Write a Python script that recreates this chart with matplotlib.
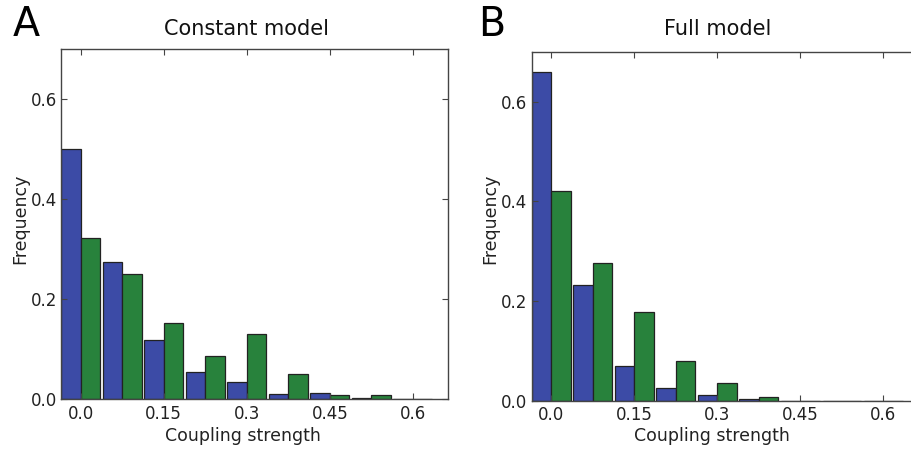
import numpy as np
import matplotlib
matplotlib.use("Agg")
import matplotlib.pyplot as plt

# bin centres (coupling strength) and frequencies
bin_centers = [0.0, 0.075, 0.15, 0.225, 0.3, 0.375, 0.45, 0.525, 0.6]

const_blue = [0.500, 0.273, 0.117, 0.053, 0.033, 0.010, 0.011, 0.002, 0.0005]
const_green = [0.321, 0.250, 0.151, 0.085, 0.129, 0.050, 0.007, 0.007, 0.0]

full_blue = [0.659, 0.233, 0.069, 0.025, 0.011, 0.003, 0.0, 0.0, 0.0]
full_green = [0.420, 0.277, 0.178, 0.079, 0.035, 0.007, 0.0, 0.0, 0.0]

xticks = [0.0, 0.15, 0.3, 0.45, 0.6]
xtick_labels = ["0.0", "0.15", "0.3", "0.45", "0.6"]
yticks = [0.0, 0.2, 0.4, 0.6]
ytick_labels = ["0.0", "0.2", "0.4", "0.6"]

blue = "#3c4ba6"
green = "#28823c"
w = 0.035

fig = plt.figure(figsize=(9.11, 4.49), dpi=100)
axA = fig.add_axes([0.067, 0.1114, 0.425, 0.7795])
axB = fig.add_axes([0.5836, 0.1076, 0.425, 0.777])


def draw(ax, b, g):
    x = np.array(bin_centers)
    ax.bar(x - w / 2, b, w, color=blue, edgecolor="#222222", linewidth=0.9)
    ax.bar(x + w / 2, g, w, color=green, edgecolor="#222222", linewidth=0.9)
    ax.set_xlim(-0.0355, 0.664)
    ax.set_ylim(0, 0.7)
    ax.set_xticks(xticks)
    ax.set_xticklabels(xtick_labels)
    ax.set_yticks(yticks)
    ax.set_yticklabels(ytick_labels)
    ax.tick_params(direction="in", top=True, right=True, length=4,
                   width=0.8, color="#444444", labelsize=12,
                   labelcolor="#222222")
    ax.tick_params(axis="x", pad=4)
    ax.tick_params(axis="y", pad=3)
    for s in ax.spines.values():
        s.set_color("#444444")
        s.set_linewidth(1.0)


draw(axA, const_blue, const_green)
draw(axB, full_blue, full_green)

# titles, labels and panel letters
fig.text(246.7 / 911, 1 - 29 / 449, "Constant model", fontsize=15,
         ha="center", va="center", color="#111111")
fig.text(717.5 / 911, 1 - 29 / 449, "Full model", fontsize=15,
         ha="center", va="center", color="#111111")
fig.text(242.5 / 911, 1 - 436 / 449, "Coupling strength", fontsize=12.5,
         ha="center", va="center", color="#222222")
fig.text(712.3 / 911, 1 - 436 / 449, "Coupling strength", fontsize=12.5,
         ha="center", va="center", color="#222222")
fig.text(20 / 911, 1 - 219 / 449, "Frequency", fontsize=12.5, rotation=90,
         ha="center", va="center", color="#222222")
fig.text(490.7 / 911, 1 - 219 / 449, "Frequency", fontsize=12.5, rotation=90,
         ha="center", va="center", color="#222222")
fig.text(26 / 911, 1 - 25.5 / 449, "A", fontsize=28.5, ha="center", va="center")
fig.text(492 / 911, 1 - 25.5 / 449, "B", fontsize=28.5, ha="center", va="center")

fig.savefig("out.png", dpi=100)
